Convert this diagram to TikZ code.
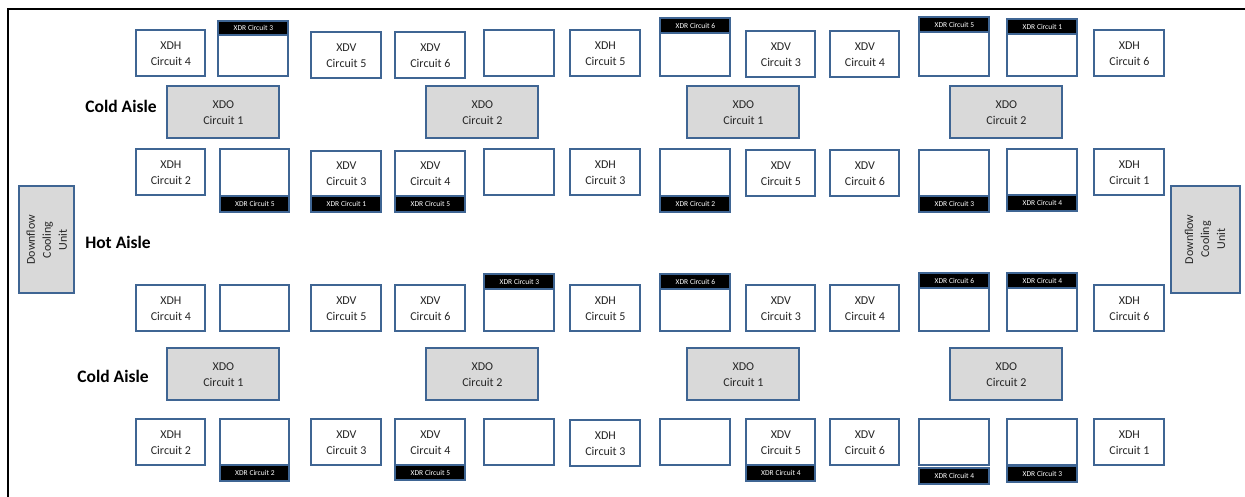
\documentclass[tikz,border=0pt]{standalone}
\usepackage{fontspec}
\setmainfont{Carlito}
\definecolor{edgeblue}{HTML}{3F6593}
\definecolor{unitgray}{HTML}{D9D9D9}
\tikzset{
  base/.style={draw=edgeblue,line width=2pt,outer sep=0pt,inner sep=0pt,rectangle,align=center,text=black!85,
    font=\fontsize{12}{16}\selectfont},
  rack/.style={base,fill=white},
  unit/.style={base,fill=unitgray},
  tag/.style={base,fill=black,text=white,font=\fontsize{7.5}{8}\selectfont},
  aisle/.style={font=\bfseries\fontsize{17.5}{18}\selectfont,inner sep=0pt,outer sep=0pt}
}
% name, style, x0, y0, x1, y1, text
\newcommand{\bx}[7]{%
  \pgfmathsetmacro{\bw}{#5-#3}\pgfmathsetmacro{\bh}{#6-#4}%
  \pgfmathsetmacro{\cx}{(#3+#5)/2+0.4}\pgfmathsetmacro{\cy}{(#4+#6)/2+0.3}%
  \node[#2,minimum width=\bw pt,minimum height=\bh pt] (#1) at (\cx,\cy) {#7};}
\newcommand{\cl}[2]{#1\\Circuit #2}
\newcommand{\xr}[1]{XDR Circuit #1}
\begin{document}
\begin{tikzpicture}[x=1pt,y=-1pt]
\useasboundingbox (0,0) rectangle (1245,497);
\fill[white] (0,0) rectangle (1245,497);
\draw[black,line width=2pt] (8,497) -- (8,9) -- (1245,9);
% Row 1
\bx{a1}{rack}{136}{30}{205}{76}{\cl{XDH}{4}}
\bx{a2}{rack}{218}{35}{288}{76}{}
\bx{a2t}{tag}{218}{21}{288}{35}{\xr{3}}
\bx{a3}{rack}{311}{32}{381}{78}{\cl{XDV}{5}}
\bx{a4}{rack}{395}{32}{465}{78}{\cl{XDV}{6}}
\bx{a5}{rack}{484}{30}{554}{76}{}
\bx{a6}{rack}{570}{30}{640}{76}{\cl{XDH}{5}}
\bx{a7}{rack}{660}{33}{730}{76}{}
\bx{a7t}{tag}{660}{18}{730}{33}{\xr{6}}
\bx{a8}{rack}{746}{31}{815}{77}{\cl{XDV}{3}}
\bx{a9}{rack}{830}{31}{899}{77}{\cl{XDV}{4}}
\bx{a10}{rack}{919}{32}{989}{76}{}
\bx{a10t}{tag}{919}{17}{989}{32}{\xr{5}}
\bx{a11}{rack}{1007}{34}{1077}{76}{}
\bx{a11t}{tag}{1007}{19}{1077}{34}{\xr{1}}
\bx{a12}{rack}{1094}{30}{1164}{76}{\cl{XDH}{6}}
% XDO upper
\bx{o1}{unit}{167}{86}{279}{138}{\cl{XDO}{1}}
\bx{o2}{unit}{426}{86}{538}{138}{\cl{XDO}{2}}
\bx{o3}{unit}{687}{86}{799}{138}{\cl{XDO}{1}}
\bx{o4}{unit}{950}{86}{1062}{138}{\cl{XDO}{2}}
% Row 2
\bx{b1}{rack}{136}{149}{205}{195}{\cl{XDH}{2}}
\bx{b2}{rack}{220}{149}{289}{196}{}
\bx{b2t}{tag}{220}{196}{289}{212}{\xr{5}}
\bx{b3}{rack}{311}{151}{381}{196}{\cl{XDV}{3}}
\bx{b3t}{tag}{311}{196}{381}{212}{\xr{1}}
\bx{b4}{rack}{395}{151}{465}{196}{\cl{XDV}{4}}
\bx{b4t}{tag}{395}{196}{465}{212}{\xr{5}}
\bx{b5}{rack}{484}{149}{554}{195}{}
\bx{b6}{rack}{570}{149}{640}{195}{\cl{XDH}{3}}
\bx{b7}{rack}{660}{149}{730}{196}{}
\bx{b7t}{tag}{660}{196}{730}{212}{\xr{2}}
\bx{b8}{rack}{746}{150}{815}{196}{\cl{XDV}{5}}
\bx{b9}{rack}{830}{150}{899}{196}{\cl{XDV}{6}}
\bx{b10}{rack}{919}{150}{989}{196}{}
\bx{b10t}{tag}{919}{196}{989}{212}{\xr{3}}
\bx{b11}{rack}{1007}{149}{1077}{195}{}
\bx{b11t}{tag}{1007}{195}{1077}{211}{\xr{4}}
\bx{b12}{rack}{1094}{149}{1164}{195}{\cl{XDH}{1}}
% Row 3
\bx{c1}{rack}{136}{285}{205}{331}{\cl{XDH}{4}}
\bx{c2}{rack}{220}{285}{289}{331}{}
\bx{c3}{rack}{311}{285}{381}{331}{\cl{XDV}{5}}
\bx{c4}{rack}{395}{285}{465}{331}{\cl{XDV}{6}}
\bx{c5}{rack}{484}{289}{554}{331}{}
\bx{c5t}{tag}{484}{274}{554}{289}{\xr{3}}
\bx{c6}{rack}{570}{285}{640}{331}{\cl{XDH}{5}}
\bx{c7}{rack}{660}{289}{730}{331}{}
\bx{c7t}{tag}{660}{274}{730}{289}{\xr{6}}
\bx{c8}{rack}{746}{285}{815}{331}{\cl{XDV}{3}}
\bx{c9}{rack}{830}{285}{899}{331}{\cl{XDV}{4}}
\bx{c10}{rack}{919}{288}{989}{331}{}
\bx{c10t}{tag}{919}{273}{989}{288}{\xr{6}}
\bx{c11}{rack}{1007}{288}{1077}{331}{}
\bx{c11t}{tag}{1007}{273}{1077}{288}{\xr{4}}
\bx{c12}{rack}{1094}{285}{1164}{331}{\cl{XDH}{6}}
% XDO lower
\bx{p1}{unit}{167}{348}{279}{400}{\cl{XDO}{1}}
\bx{p2}{unit}{426}{348}{538}{400}{\cl{XDO}{2}}
\bx{p3}{unit}{687}{348}{799}{400}{\cl{XDO}{1}}
\bx{p4}{unit}{950}{348}{1062}{400}{\cl{XDO}{2}}
% Row 4
\bx{d1}{rack}{136}{419}{205}{465}{\cl{XDH}{2}}
\bx{d2}{rack}{220}{419}{289}{465}{}
\bx{d2t}{tag}{220}{465}{289}{481}{\xr{2}}
\bx{d3}{rack}{311}{419}{381}{465}{\cl{XDV}{3}}
\bx{d4}{rack}{395}{419}{465}{465}{\cl{XDV}{4}}
\bx{d4t}{tag}{395}{465}{465}{480}{\xr{5}}
\bx{d5}{rack}{484}{419}{554}{465}{}
\bx{d6}{rack}{570}{420}{640}{466}{\cl{XDH}{3}}
\bx{d7}{rack}{660}{419}{730}{465}{}
\bx{d8}{rack}{746}{419}{815}{465}{\cl{XDV}{5}}
\bx{d8t}{tag}{746}{465}{815}{481}{\xr{4}}
\bx{d9}{rack}{830}{419}{899}{465}{\cl{XDV}{6}}
\bx{d10}{rack}{919}{419}{989}{465}{}
\bx{d10t}{tag}{919}{468}{989}{484}{\xr{4}}
\bx{d11}{rack}{1007}{419}{1077}{465}{}
\bx{d11t}{tag}{1007}{466}{1077}{482}{\xr{3}}
\bx{d12}{rack}{1094}{419}{1164}{465}{\cl{XDH}{1}}
% Cooling units
\node[unit,rotate=90,minimum width=107pt,minimum height=55pt] (cu1) at (46.9,239.8) {Downflow\\Cooling\\Unit};
\node[unit,rotate=90,minimum width=107pt,minimum height=69pt] (cu2) at (1205,239.3) {Downflow\\Cooling\\Unit};
% Aisle labels
\node[aisle] (la1) at (121,106) {Cold Aisle};
\node[aisle] (la2) at (118,242) {Hot Aisle};
\node[aisle] (la3) at (113,376) {Cold Aisle};
\end{tikzpicture}
\end{document}
